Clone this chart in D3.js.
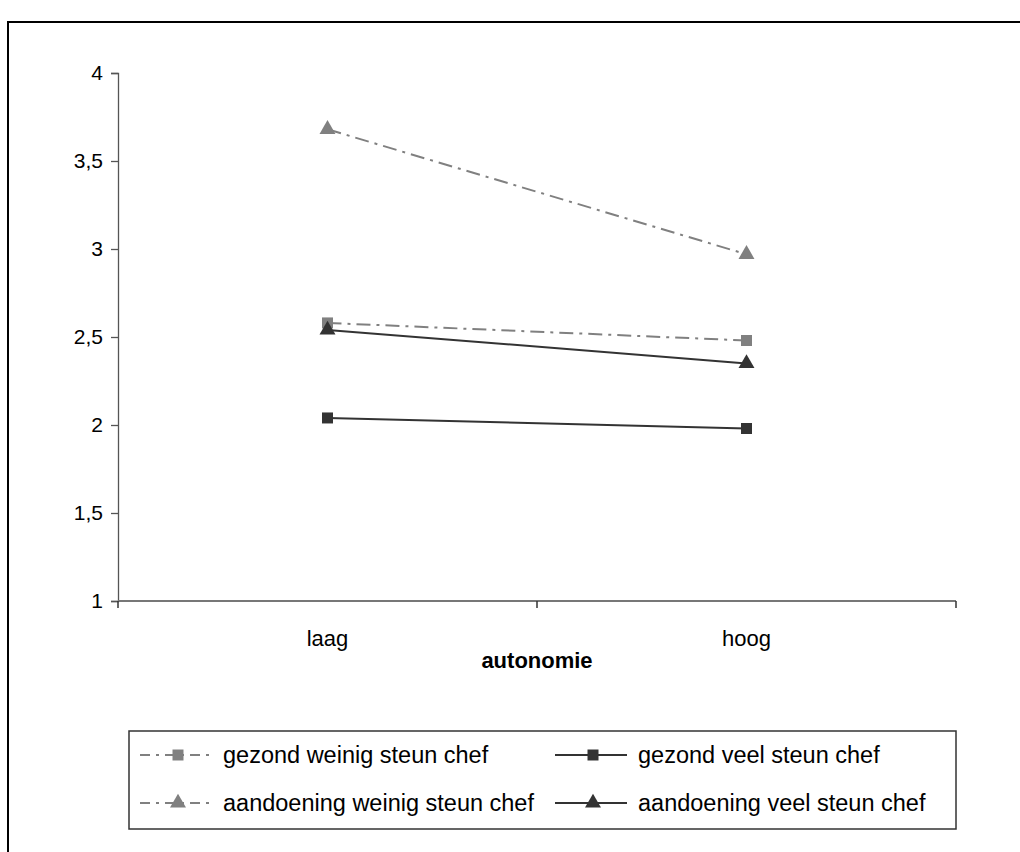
<!DOCTYPE html>
<html>
<head>
<meta charset="utf-8">
<script src="https://cdn.jsdelivr.net/npm/d3@7"></script>
<style>
  html, body { margin: 0; padding: 0; background: #fff; }
  svg { display: block; font-family: "Liberation Sans", Arial, sans-serif; }
</style>
</head>
<body>
<svg id="chart" width="1020" height="852"></svg>
<script>
// Categories on the x axis
const categories = ["laag", "hoog"];
const xTitle = "autonomie";

// Y axis ticks (Dutch decimal comma)
const yTicks = [1, 1.5, 2, 2.5, 3, 3.5, 4];
const yTickLabels = ["1", "1,5", "2", "2,5", "3", "3,5", "4"];

// Series: mean scores at low / high autonomy
const seriesNames = [
  "gezond weinig steun chef",
  "gezond veel steun chef",
  "aandoening weinig steun chef",
  "aandoening veel steun chef"
];
const gezondWeinig = [2.58, 2.48];
const gezondVeel = [2.04, 1.98];
const aandoeningWeinig = [3.68, 2.97];
const aandoeningVeel = [2.54, 2.35];

const series = [
  { name: seriesNames[0], values: gezondWeinig, color: "#808080", dash: "14,6,3,6", symbol: d3.symbolSquare },
  { name: seriesNames[1], values: gezondVeel, color: "#333333", dash: null, symbol: d3.symbolSquare },
  { name: seriesNames[2], values: aandoeningWeinig, color: "#808080", dash: "14,6,3,6", symbol: d3.symbolTriangle },
  { name: seriesNames[3], values: aandoeningVeel, color: "#333333", dash: null, symbol: d3.symbolTriangle }
];

// Marker areas (px²) for d3.symbol
const markerSize = s => (s === d3.symbolSquare ? 121 : 110);

const svg = d3.select("#chart");

// Outer chart frame (extends past the page on right and bottom)
svg.append("rect")
  .attr("x", 8).attr("y", 22)
  .attr("width", 1100).attr("height", 900)
  .attr("fill", "none").attr("stroke", "#000").attr("stroke-width", 2);

const plot = { left: 118, right: 956, top: 73, bottom: 601 };

const x = d3.scaleBand().domain(categories).range([plot.left, plot.right]);
const y = d3.scaleLinear().domain([1, 4]).range([plot.bottom, plot.top]);

// Y axis
const yAxis = svg.append("g")
  .attr("transform", `translate(${plot.left},0)`)
  .call(d3.axisLeft(y).tickValues(yTicks).tickSize(7).tickPadding(8)
    .tickFormat((d, i) => yTickLabels[i]));
yAxis.select(".domain").attr("stroke", "#555").attr("stroke-width", 1.3);
yAxis.selectAll(".tick line").attr("stroke", "#555").attr("stroke-width", 1.3);
yAxis.selectAll(".tick text").attr("font-size", 21).attr("fill", "#000")
  .attr("font-family", "Liberation Sans, Arial, sans-serif");

// X axis: ticks at category boundaries
const xAxisG = svg.append("g").attr("transform", `translate(0,${plot.bottom})`);
xAxisG.append("line")
  .attr("x1", plot.left).attr("x2", plot.right)
  .attr("stroke", "#777").attr("stroke-width", 2);
const boundaries = [plot.left, ...categories.map(c => x(c) + x.bandwidth())];
xAxisG.selectAll("line.tick").data(boundaries).join("line")
  .attr("class", "tick")
  .attr("x1", d => d).attr("x2", d => d)
  .attr("y1", 0).attr("y2", 7)
  .attr("stroke", "#333").attr("stroke-width", 1.5);
xAxisG.selectAll("text").data(categories).join("text")
  .attr("x", d => x(d) + x.bandwidth() / 2)
  .attr("y", 45)
  .attr("text-anchor", "middle")
  .attr("font-size", 22)
  .text(d => d);

svg.append("text")
  .attr("x", (plot.left + plot.right) / 2)
  .attr("y", 668)
  .attr("text-anchor", "middle")
  .attr("font-size", 22)
  .attr("font-weight", "bold")
  .text(xTitle);

const cx = c => x(c) + x.bandwidth() / 2;
const line = d3.line().x((d, i) => cx(categories[i])).y(d => y(d));

// Lines then markers
const sg = svg.append("g").selectAll("g").data(series).join("g");
sg.append("path")
  .attr("d", d => line(d.values))
  .attr("fill", "none")
  .attr("stroke", d => d.color)
  .attr("stroke-width", 2)
  .attr("stroke-dasharray", d => d.dash);
sg.selectAll("path.mk").data(d => d.values.map((v, i) => ({ v, i, s: d })))
  .join("path")
  .attr("class", "mk")
  .attr("transform", d => `translate(${cx(categories[d.i])},${y(d.v)})`)
  .attr("d", d => d3.symbol().type(d.s.symbol).size(markerSize(d.s.symbol))())
  .attr("fill", d => d.s.color);

// Legend
const legend = svg.append("g");
legend.append("rect")
  .attr("x", 129).attr("y", 731).attr("width", 827).attr("height", 98)
  .attr("fill", "#fff").attr("stroke", "#333").attr("stroke-width", 1.5);
const legendPos = [
  { lx: 140, tx: 223, ty: 755 },
  { lx: 555, tx: 638, ty: 755 },
  { lx: 140, tx: 223, ty: 803 },
  { lx: 555, tx: 638, ty: 803 }
];
const li = legend.selectAll("g.item").data(series).join("g").attr("class", "item");
li.append("line")
  .attr("x1", (d, i) => legendPos[i].lx).attr("x2", (d, i) => legendPos[i].lx + 72)
  .attr("y1", (d, i) => legendPos[i].ty).attr("y2", (d, i) => legendPos[i].ty)
  .attr("stroke", d => d.color).attr("stroke-width", 2)
  .attr("stroke-dasharray", d => d.dash ? "10,6,3,6" : null);
li.append("path")
  .attr("transform", (d, i) => `translate(${legendPos[i].lx + 38},${legendPos[i].ty})`)
  .attr("d", d => d3.symbol().type(d.symbol).size(markerSize(d.symbol))())
  .attr("fill", d => d.color);
li.append("text")
  .attr("x", (d, i) => legendPos[i].tx).attr("y", (d, i) => legendPos[i].ty)
  .attr("dy", "0.35em")
  .attr("font-size", 23.5)
  .text(d => d.name);
</script>
</body>
</html>
